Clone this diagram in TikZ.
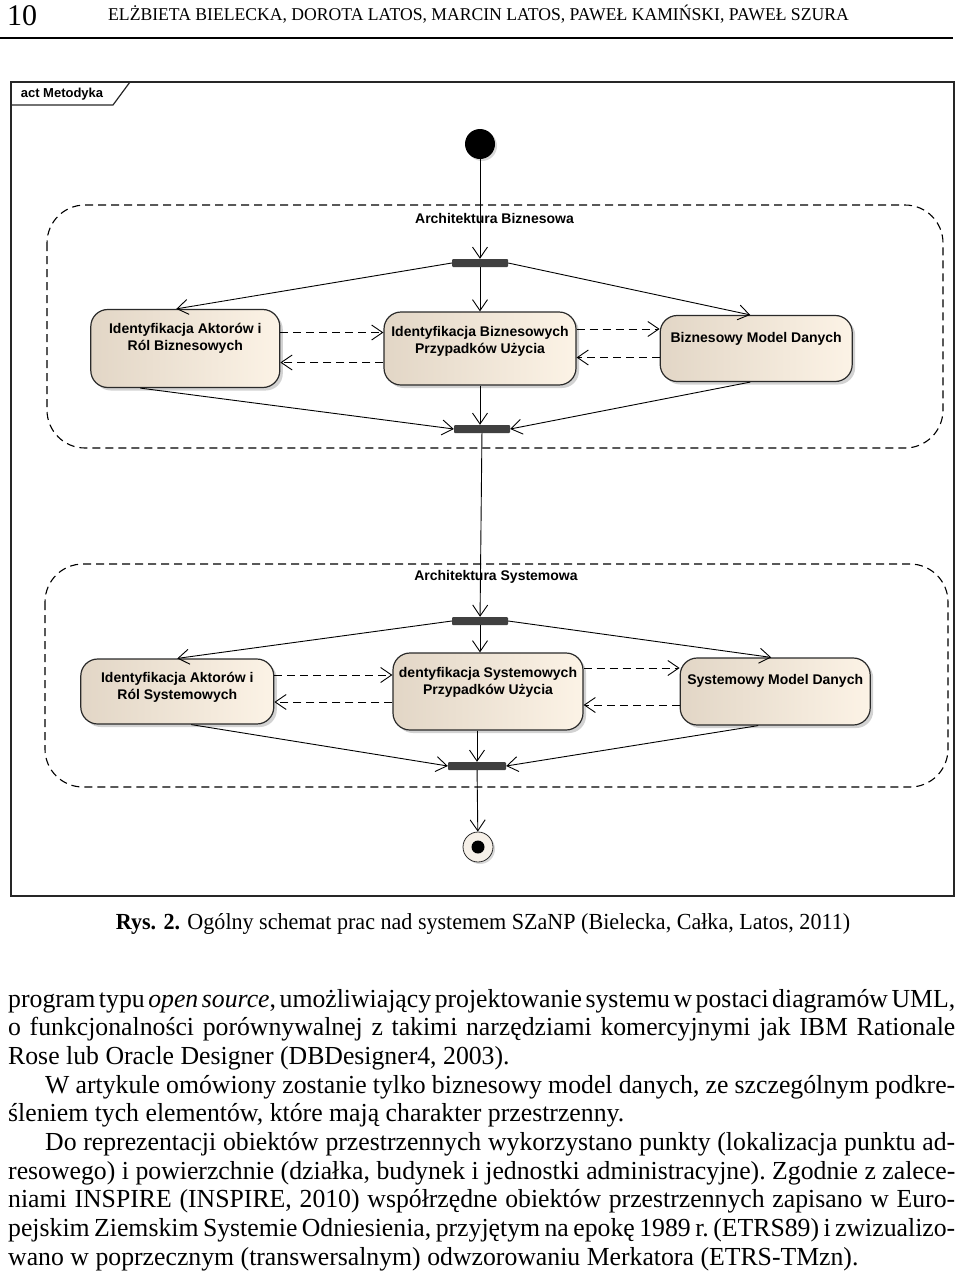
\documentclass[tikz,border=0pt]{standalone}
\usepackage{fontspec}
\setmainfont{Liberation Serif}
\setsansfont{Liberation Sans}
\newfontfamily\umlfont{Liberation Sans}
\newfontfamily\capfont{Liberation Serif}[FakeStretch=0.96]
\newfontfamily\headfont{Liberation Serif}[FakeStretch=0.98]
\newfontfamily\bodyfont{Liberation Serif}[FakeStretch=0.99]
\usetikzlibrary{arrows.meta,positioning,shadows}

\definecolor{actleft}{HTML}{E2D6C6}
\definecolor{actright}{HTML}{FCF3E6}
\definecolor{barfill}{HTML}{404040}
\definecolor{edgegray}{HTML}{2A2A2A}
\definecolor{finalfill}{HTML}{F6F0E8}

\tikzset{
  act/.style={draw=edgegray, line width=1.2pt, rounded corners=17pt,
    left color=actleft, right color=actright, inner sep=0pt,
    drop shadow={shadow xshift=3pt, shadow yshift=-3pt, fill=black!35}},
  acttext/.style={anchor=north, align=center, inner sep=0pt, yshift=-15pt,
    font=\umlfont\bfseries\fontsize{14}{17}\selectfont},
  bar/.style={fill=barfill, minimum width=56pt, minimum height=8pt,
    inner sep=0pt, rounded corners=1pt},
  flow/.style={-{Straight Barb[length=11pt,width=15pt]}, line width=0.9pt},
  dep/.style={flow, dash pattern=on 8pt off 5pt},
  region/.style={dash pattern=on 8pt off 5pt, line width=1.1pt, rounded corners=38pt},
  umllabel/.style={font=\umlfont\bfseries\fontsize{14}{17}\selectfont, inner sep=0pt}
}

\begin{document}
\begin{tikzpicture}[x=1pt, y=-1pt]
    \useasboundingbox (0,0) rectangle (960,1277);

    % header
    \node[anchor=base west, inner sep=0pt, font=\fontsize{30}{32}\selectfont] (pagenum) at (7,25) {10};
    \node[anchor=base west, inner sep=0pt, font=\headfont\fontsize{18}{20}\selectfont] (authors) at (108,20)
        {ELŻBIETA BIELECKA, DOROTA LATOS, MARCIN LATOS, PAWEŁ KAMIŃSKI, PAWEŁ SZURA};
    \draw[line width=2.5pt] (0,38) -- (953,38);

    % frame
    \draw[line width=1.6pt, draw=black!85] (11,82) rectangle (954,896);
    \draw[line width=1.2pt, draw=black!85] (11,105) -- (113,105) -- (130,82);
    \node[font=\umlfont\bfseries\fontsize{13}{15}\selectfont, inner sep=0pt] (framename) at (62,94) {act Metodyka};

    % regions
    \draw[region] (47,205) rectangle (943,448);
    \draw[region] (45,564) rectangle (948,787);
    \node[umllabel] (bizlabel) at (494.5,218) {Architektura Biznesowa};
    \node[umllabel] (syslabel) at (496,577) {Architektura Systemowa};

    % start
    \node[circle, fill=black, minimum size=30pt, inner sep=0pt,
        drop shadow={shadow xshift=2pt, shadow yshift=-2pt, fill=black!30}] (start) at (480,144) {};

    % Architektura Biznesowa
    \node[bar] (fork1) at (480,263) {};
    \node[act, minimum width=192pt, minimum height=73pt,
        label={[acttext]north:Identyfikacja Biznesowych\\Przypadków Użycia}] (przyp1) at (480,348.5) {};
    \node[act, minimum width=189pt, minimum height=78pt, left=103pt of przyp1,
        label={[acttext, yshift=1pt]north:Identyfikacja Aktorów i\\Ról Biznesowych}] (akt1) {};
    \node[act, minimum width=192pt, minimum height=66pt, right=83pt of przyp1,
        label={[acttext, yshift=-2pt]north:Biznesowy Model Danych}] (model1) {};
    \node[bar] (join1) at (482,429) {};

    \draw[flow] (start) -- (fork1);
    \draw[flow] (fork1.west) -- ([xshift=-9pt]akt1.north);
    \draw[flow] (fork1) -- (przyp1);
    \draw[flow] (fork1.east) -- ([xshift=-6pt]model1.north);
    \draw[dep] ([yshift=16pt]akt1.east) -- ([yshift=16pt]akt1.east -| przyp1.west);
    \draw[dep] ([yshift=-14pt]przyp1.west) -- ([yshift=-14pt]przyp1.west -| akt1.east);
    \draw[dep] ([yshift=19.5pt]przyp1.east) -- ([yshift=19.5pt]przyp1.east -| model1.west);
    \draw[dep] ([yshift=-9pt]model1.west) -- ([yshift=-9pt]model1.west -| przyp1.east);
    \draw[flow] ([xshift=-45pt]akt1.south) -- (join1.west);
    \draw[flow] (przyp1.south) -- (przyp1.south |- join1.north);
    \draw[flow] ([xshift=-6pt]model1.south) -- (join1.east);

    % Architektura Systemowa
    \node[bar] (fork2) at (480,621) {};
    \node[act, minimum width=190pt, minimum height=77pt,
        label={[acttext]north:dentyfikacja Systemowych\\Przypadków Użycia}] (przyp2) at (488,691.5) {};
    \node[act, minimum width=193pt, minimum height=65pt, left=118pt of przyp2,
        label={[acttext, yshift=1pt]north:Identyfikacja Aktorów i\\Ról Systemowych}] (akt2) {};
    \node[act, minimum width=190pt, minimum height=67pt, right=96pt of przyp2,
        label={[acttext, yshift=-2pt]north:Systemowy Model Danych}] (model2) {};
    \node[bar, minimum width=58pt] (join2) at (477,766) {};

    \draw[flow] (join1) -- (fork2);
    \draw[flow] (fork2.west) -- (akt2.north);
    \draw[flow] (fork2.south) -- (fork2.south |- przyp2.north);
    \draw[flow] (fork2.east) -- ([xshift=-4pt]model2.north);
    \draw[dep] ([yshift=16.5pt]akt2.east) -- ([yshift=16.5pt]akt2.east -| przyp2.west);
    \draw[dep] ([yshift=-10.5pt]przyp2.west) -- ([yshift=-10.5pt]przyp2.west -| akt2.east);
    \draw[dep] ([yshift=23.5pt]przyp2.east) -- ([yshift=23.5pt]przyp2.east -| model2.west);
    \draw[dep] ([yshift=-13.5pt]model2.west) -- ([yshift=-13.5pt]model2.west -| przyp2.east);
    \draw[flow] ([xshift=14pt]akt2.south) -- (join2.west);
    \draw[flow] (join2.north |- przyp2.south) -- (join2.north);
    \draw[flow] ([xshift=-17pt]model2.south) -- (join2.east);

    % final
    \node[circle, draw=edgegray, fill=finalfill, minimum size=30pt, inner sep=0pt, line width=0.8pt,
        drop shadow={shadow xshift=2pt, shadow yshift=-2pt, fill=black!30}] (final) at (478,847) {};
    \node[circle, fill=black, minimum size=13pt, inner sep=0pt] (finaldot) at (final) {};
    \draw[flow] (join2) -- (final);

    % caption
    \node[anchor=base, inner sep=0pt, font=\capfont\fontsize{23}{26}\selectfont] (caption) at (483,929)
        {\textbf{Rys. 2.} Ogólny schemat prac nad systemem SZaNP (Bielecka, Całka, Latos, 2011)};

    % body text
    \node[anchor=base west, inner sep=0pt, text width=947pt, align=justify,
        font=\bodyfont\fontsize{26}{28.7}\selectfont] (body) at (8,1007) {%
        \hyphenpenalty=10000 \tolerance=10000 \frenchspacing
        \spaceskip=0.25em plus 0.4em minus 0.2em
        program typu \textit{open source}, umożliwiający projektowanie systemu w postaci diagramów UML,\linebreak
        o funkcjonalności porównywalnej z takimi narzędziami komercyjnymi jak IBM Rationale\linebreak
        Rose lub Oracle Designer (DBDesigner4, 2003).\par
        \hspace*{37pt}W artykule omówiony zostanie tylko biznesowy model danych, ze szczególnym podkre-\linebreak
        śleniem tych elementów, które mają charakter przestrzenny.\par
        \hspace*{37pt}Do reprezentacji obiektów przestrzennych wykorzystano punkty (lokalizacja punktu ad-\linebreak
        resowego) i powierzchnie (działka, budynek i jednostki administracyjne). Zgodnie z zalece-\linebreak
        niami INSPIRE (INSPIRE, 2010) współrzędne obiektów przestrzennych zapisano w Euro-\linebreak
        pejskim Ziemskim Systemie Odniesienia, przyjętym na epokę 1989 r. (ETRS89) i zwizualizo-\linebreak
        wano w poprzecznym (transwersalnym) odwzorowaniu Merkatora (ETRS-TMzn).};
\end{tikzpicture}
\end{document}
